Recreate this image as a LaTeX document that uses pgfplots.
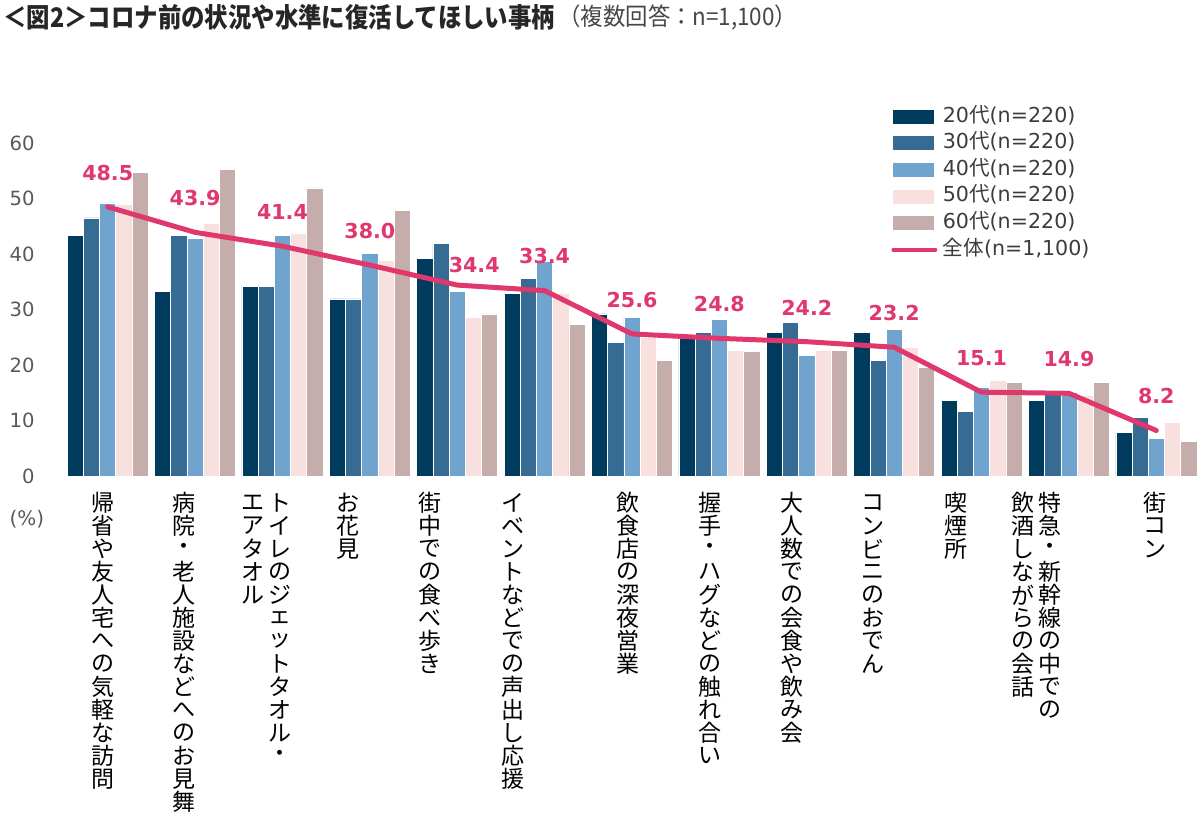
\documentclass[border=0pt]{standalone}
\usepackage{fontspec}
\setmainfont{DejaVu Sans}
\newfontfamily\cjk{Noto Sans CJK JP}
\usepackage{pgfplots}
\pgfplotsset{compat=1.18}
\usepackage{pgfplotstable}
\definecolor{cA}{HTML}{003A5D}
\definecolor{cB}{HTML}{366B93}
\definecolor{cC}{HTML}{70A4CF}
\definecolor{cD}{HTML}{F8E0DF}
\definecolor{cE}{HTML}{C5ADAC}
\definecolor{pk}{HTML}{E0386C}
\definecolor{tg}{HTML}{595959}
\definecolor{tx}{HTML}{262626}
\makeatletter
\newcommand\vtx[1]{\vtop{\offinterlineskip\@tfor\vtc:=#1\do{\vbox to 11.5pt{\vss\hbox to 11.5pt{\hss\vtc\hss}\vss}}}}
\makeatother
\newcommand\lab[2]{\hbox{#2\kern#1pt}}

\pgfplotstableread{
x a b c d e
0 43.3 46.5 49.2 49.0 54.7
1 33.3 43.3 42.9 45.5 55.2
2 34.2 34.2 43.3 43.8 51.9
3 31.9 31.9 40.1 38.8 47.9
4 39.2 41.9 33.2 28.6 29.2
5 32.9 35.6 38.7 32.9 27.3
6 29.2 24.1 28.6 25.0 20.9
7 25.2 25.9 28.2 22.7 22.4
8 25.9 27.7 21.8 22.7 22.7
9 25.9 20.9 26.4 23.2 19.6
10 13.6 11.7 16.0 17.3 16.9
11 13.6 15.0 15.0 14.6 16.9
12 7.8 10.5 6.8 9.6 6.3
}\bars

\pgfplotstableread{
x y dx dy
0 48.5 0 0
1 43.9 0 0
2 41.4 0 0
3 38.0 0 0
4 34.4 8.5 -7.25
5 33.4 0 0
6 25.6 0 0
7 24.8 0 0
8 24.2 0 0
9 23.2 0 0
10 15.1 0 0
11 14.9 0 0
12 8.2 0 0
}\tot

\begin{document}
\begin{tikzpicture}
\useasboundingbox (0,0) rectangle (600pt,412.5pt);
\node[anchor=west, inner sep=0pt, text=tx, yscale=1.15, transform shape] at (1.5pt,404pt)
  {{\cjk\bfseries\fontsize{11.7}{14}\selectfont ＜図2＞コロナ前の状況や水準に復活してほしい事柄}};
\node[anchor=west, inner sep=0pt, text=tx!85, yscale=1.08, transform shape] at (279pt,404pt)
  {{\cjk\fontsize{11.2}{14}\selectfont （複数回答：n=1,100）}};
\node[inner sep=0pt, text=tg] at (13.5pt,153pt) {\fontsize{10}{12}\selectfont (\%)};
\begin{axis}[
  at={(32pt,174.5pt)}, anchor=south west, scale only axis,
  width=568pt, height=166.5pt,
  xmin=-0.5, xmax=12.5, ymin=0, ymax=60,
  axis line style={draw=none}, tick style={draw=none},
  major tick length=0pt,
  /pgf/number format/assume math mode=true,
  ytick={0,10,...,60},
  yticklabel style={anchor=east, inner sep=0pt, xshift=-14.5pt, text=tg, font=\fontsize{9.8}{11}\selectfont},
  xtick={0,...,12},
  xticklabel style={anchor=north, inner sep=0pt, yshift=-7.5pt, text=black, font=\cjk\fontsize{11.5}{11.5}\selectfont},
  xticklabels={
    {\lab{4.5}{\vtx{帰省や友人宅への気軽な訪問}}},
    {\lab{11}{\vtx{病院・老人施設などへのお見舞}}},
    {\lab{16}{\hbox{\vtx{エアタオル}\kern2pt\vtx{トイレのジェットタオル・}}}},
    {\lab{22}{\vtx{お花見}}},
    {\lab{27}{\vtx{街中での食べ歩き}}},
    {\lab{32}{\vtx{イベントなどでの声出し応援}}},
    {\lab{4}{\vtx{飲食店の深夜営業}}},
    {\lab{9}{\vtx{握手・ハグなどの触れ合い}}},
    {\lab{15}{\vtx{大人数での会食や飲み会}}},
    {\lab{21}{\vtx{コンビニのおでん}}},
    {\lab{26}{\vtx{喫煙所}}},
    {\lab{32}{\hbox{\vtx{飲酒しながらの会話}\kern2pt\vtx{特急・新幹線の中での}}}},
    {\lab{1}{\vtx{街コン}}}
  },
  legend style={at={(0.7227,1.124)}, anchor=north west, draw=none, fill=none,
    font=\fontsize{10.3}{12}\selectfont, text=tx!90,
    nodes={inner sep=0pt, text height=8pt, text depth=2.5pt},
    row sep=2.8pt},
  legend cell align=left,
  bar width=8.1pt,
]
\addplot[ybar, bar shift=-16.2pt, fill=cA, draw=white, line width=0.3pt,
  legend image code/.code={\fill[cA] (0pt,-3.25pt) rectangle (20pt,3.25pt); \path (23.5pt,0pt);}]
  table[x=x,y=a]{\bars};
\addlegendentry{20{\cjk 代}(n=220)}
\addplot[ybar, bar shift=-8.1pt, fill=cB, draw=white, line width=0.3pt,
  legend image code/.code={\fill[cB] (0pt,-3.25pt) rectangle (20pt,3.25pt); \path (23.5pt,0pt);}]
  table[x=x,y=b]{\bars};
\addlegendentry{30{\cjk 代}(n=220)}
\addplot[ybar, bar shift=0pt, fill=cC, draw=white, line width=0.3pt,
  legend image code/.code={\fill[cC] (0pt,-3.25pt) rectangle (20pt,3.25pt); \path (23.5pt,0pt);}]
  table[x=x,y=c]{\bars};
\addlegendentry{40{\cjk 代}(n=220)}
\addplot[ybar, bar shift=8.1pt, fill=cD, draw=white, line width=0.3pt,
  legend image code/.code={\fill[cD] (0pt,-3.25pt) rectangle (20pt,3.25pt); \path (23.5pt,0pt);}]
  table[x=x,y=d]{\bars};
\addlegendentry{50{\cjk 代}(n=220)}
\addplot[ybar, bar shift=16.2pt, fill=cE, draw=white, line width=0.3pt,
  legend image code/.code={\fill[cE] (0pt,-3.25pt) rectangle (20pt,3.25pt); \path (23.5pt,0pt);}]
  table[x=x,y=e]{\bars};
\addlegendentry{60{\cjk 代}(n=220)}
\addplot[pk, line width=2.5pt, line cap=round, line join=round, sharp plot, mark=none,
  point meta=y,
  visualization depends on={\thisrow{dx}\as\dx},
  visualization depends on={\thisrow{dy}\as\dy},
  nodes near coords={\pgfmathprintnumber[fixed,fixed zerofill,precision=1]{\pgfplotspointmeta}},
  every node near coord/.append style={font=\bfseries\fontsize{10.3}{12}\selectfont, text=pk, anchor=south, inner sep=0pt, yshift=12pt, xshift=\dx pt, yshift=\dy pt},
  legend image code/.code={\draw[pk, line width=2pt, line cap=round] (0pt,0pt) -- (21pt,0pt); \path (23.5pt,0pt);}]
  table[x=x,y=y]{\tot};
\addlegendentry{{\cjk 全体}(n=1,100)}
\end{axis}
\end{tikzpicture}
\end{document}
